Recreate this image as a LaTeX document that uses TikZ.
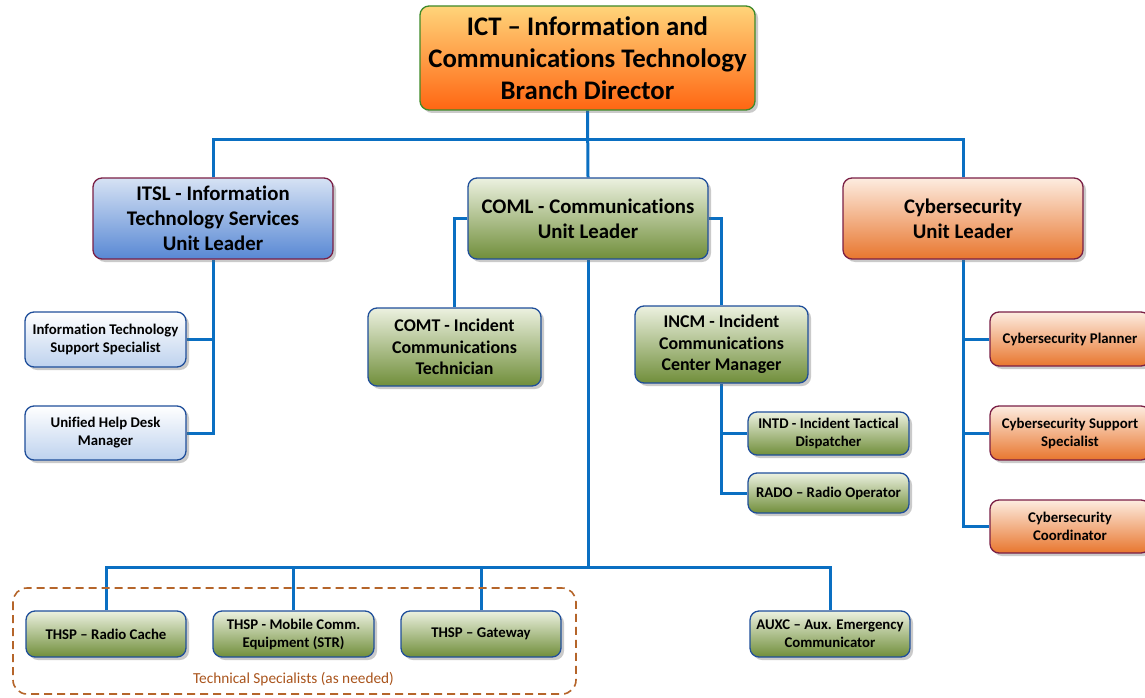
\documentclass[tikz,border=0pt]{standalone}
\usepackage{fontspec}
\setmainfont{Carlito}[Ligatures=CommonOff]
\usetikzlibrary{shadows,backgrounds}
\definecolor{conn}{HTML}{0A6FC2}
\definecolor{bordgreen}{HTML}{3E8A2A}
\definecolor{bordblue}{HTML}{1F4E9A}
\definecolor{bordmaroon}{HTML}{7A1F45}
\definecolor{dashbrown}{HTML}{B5652A}
\definecolor{labbrown}{HTML}{A9541C}
\tikzset{
  box/.style={rectangle, rounded corners=9pt, line width=1.3pt, align=center,
    font=\bfseries, inner sep=2pt,
    drop shadow={shadow xshift=3pt, shadow yshift=-3pt, opacity=0.35, fill=black!60}},
  ictbox/.style={box, draw=bordgreen, top color={rgb,255:red,255;green,212;blue,122}, bottom color={rgb,255:red,255;green,102;blue,18},
    font=\fontsize{26.8}{32}\selectfont\bfseries},
  itslbox/.style={box, draw=bordmaroon, top color={rgb,255:red,214;green,226;blue,244}, bottom color={rgb,255:red,88;green,136;blue,212},
    font=\fontsize{20.8}{25}\selectfont\bfseries},
  comlbox/.style={box, draw=bordblue, top color={rgb,255:red,236;green,241;blue,224}, bottom color={rgb,255:red,112;green,142;blue,58},
    font=\fontsize{20.8}{25}\selectfont\bfseries},
  cybbox/.style={box, draw=bordmaroon, top color={rgb,255:red,253;green,236;blue,224}, bottom color={rgb,255:red,232;green,118;blue,46},
    font=\fontsize{20.8}{25}\selectfont\bfseries},
  midgreen/.style={box, draw=bordblue, top color={rgb,255:red,236;green,241;blue,224}, bottom color={rgb,255:red,112;green,142;blue,58},
    font=\fontsize{17.9}{21.5}\selectfont\bfseries},
  smgreen/.style={box, draw=bordblue, top color={rgb,255:red,236;green,241;blue,224}, bottom color={rgb,255:red,112;green,142;blue,58},
    font=\fontsize{14.8}{18}\selectfont\bfseries},
  smblue/.style={box, draw=bordblue, top color=white, bottom color={rgb,255:red,190;green,210;blue,238},
    font=\fontsize{14.8}{18}\selectfont\bfseries},
  smcyb/.style={box, draw=bordmaroon, top color={rgb,255:red,253;green,236;blue,224}, bottom color={rgb,255:red,232;green,118;blue,46},
    font=\fontsize{14.8}{18}\selectfont\bfseries},
  link/.style={draw=conn, line width=3pt}
}
\begin{document}
\begin{tikzpicture}[x=1pt,y=-1pt]
\useasboundingbox (0,0) rectangle (1145,698);
% dashed group
\draw[dashbrown, dashed, dash pattern=on 8pt off 5pt, line width=1.6pt, rounded corners=14pt] (13,588) rectangle (576,694);
\node[text=labbrown, font=\fontsize{15.3}{18}\selectfont] (tslabel) at (293.5,679) {Technical Specialists (as needed)};
% nodes
\node[ictbox, minimum width=335pt, minimum height=104pt] (ICT) at (587.5,58)
  {ICT -- Information and\\Communications Technology\\Branch Director};
\node[itslbox, minimum width=240pt, minimum height=81pt] (ITSL) at (213,218.5)
  {ITSL - Information\\Technology Services\\Unit Leader};
\node[comlbox, minimum width=240pt, minimum height=81pt] (COML) at (588,218.5)
  {COML - Communications\\Unit Leader};
\node[cybbox, minimum width=240pt, minimum height=81pt] (CYB) at (963,218.5)
  {Cybersecurity\\Unit Leader};
\node[smblue, minimum width=161pt, minimum height=55pt] (ITS) at (105.5,339.5)
  {Information Technology\\Support Specialist};
\node[smblue, minimum width=161pt, minimum height=54pt] (UHD) at (105.5,433)
  {Unified Help Desk\\Manager};
\node[midgreen, minimum width=173pt, minimum height=78pt] (COMT) at (454.5,347)
  {COMT - Incident\\Communications\\Technician};
\node[midgreen, minimum width=173pt, minimum height=77pt] (INCM) at (721.5,344.5)
  {INCM - Incident\\Communications\\Center Manager};
\node[smgreen, minimum width=161pt, minimum height=43pt] (INTD) at (828.5,433.5)
  {INTD - Incident Tactical\\Dispatcher};
\node[smgreen, minimum width=161pt, minimum height=40pt] (RADO) at (828.5,493)
  {RADO -- Radio Operator};
\node[smcyb, minimum width=160pt, minimum height=54pt] (CP) at (1070,339)
  {Cybersecurity Planner};
\node[smcyb, minimum width=160pt, minimum height=54pt] (CSS) at (1070,433)
  {Cybersecurity Support\\Specialist};
\node[smcyb, minimum width=160pt, minimum height=53pt] (CC) at (1070,526.5)
  {Cybersecurity\\Coordinator};
\node[smgreen, minimum width=160pt, minimum height=46pt] (RC) at (106,634)
  {THSP -- Radio Cache};
\node[smgreen, minimum width=161pt, minimum height=46pt] (MOB) at (293.5,634)
  {THSP - Mobile Comm.\\Equipment (STR)};
\node[smgreen, minimum width=160pt, minimum height=46pt] (GW) at (481,634)
  {THSP -- Gateway};
\node[smgreen, minimum width=160pt, minimum height=46pt] (AUXC) at (830,634)
  {AUXC -- Aux. Emergency\\Communicator};
\coordinate (topbus) at (588,139);
\coordinate (lowbus) at (588,567);
% connectors
\begin{pgfonlayer}{background}
\draw[link] (ICT.south) -- (COML.north);
\draw[link] (ITSL.north) |- (topbus) -| (CYB.north);
\draw[link] (ITSL.south) |- (UHD.east);
\draw[link] (ITS.east) -- (ITS.east -| ITSL.south);
\draw[link] (COML.west) -| (COMT.north);
\draw[link] (COML.east) -| (INCM.north);
\draw[link] (INCM.south) |- (RADO.west);
\draw[link] (INTD.west) -- (INTD.west -| INCM.south);
\draw[link] (COML.south) -- (lowbus);
\draw[link] (RC.north) |- (lowbus) -| (AUXC.north);
\draw[link] (MOB.north) -- (MOB.north |- lowbus);
\draw[link] (GW.north) -- (GW.north |- lowbus);
\draw[link] (CYB.south) |- (CC.west);
\draw[link] (CP.west) -- (CP.west -| CYB.south);
\draw[link] (CSS.west) -- (CSS.west -| CYB.south);
\end{pgfonlayer}
\end{tikzpicture}
\end{document}
